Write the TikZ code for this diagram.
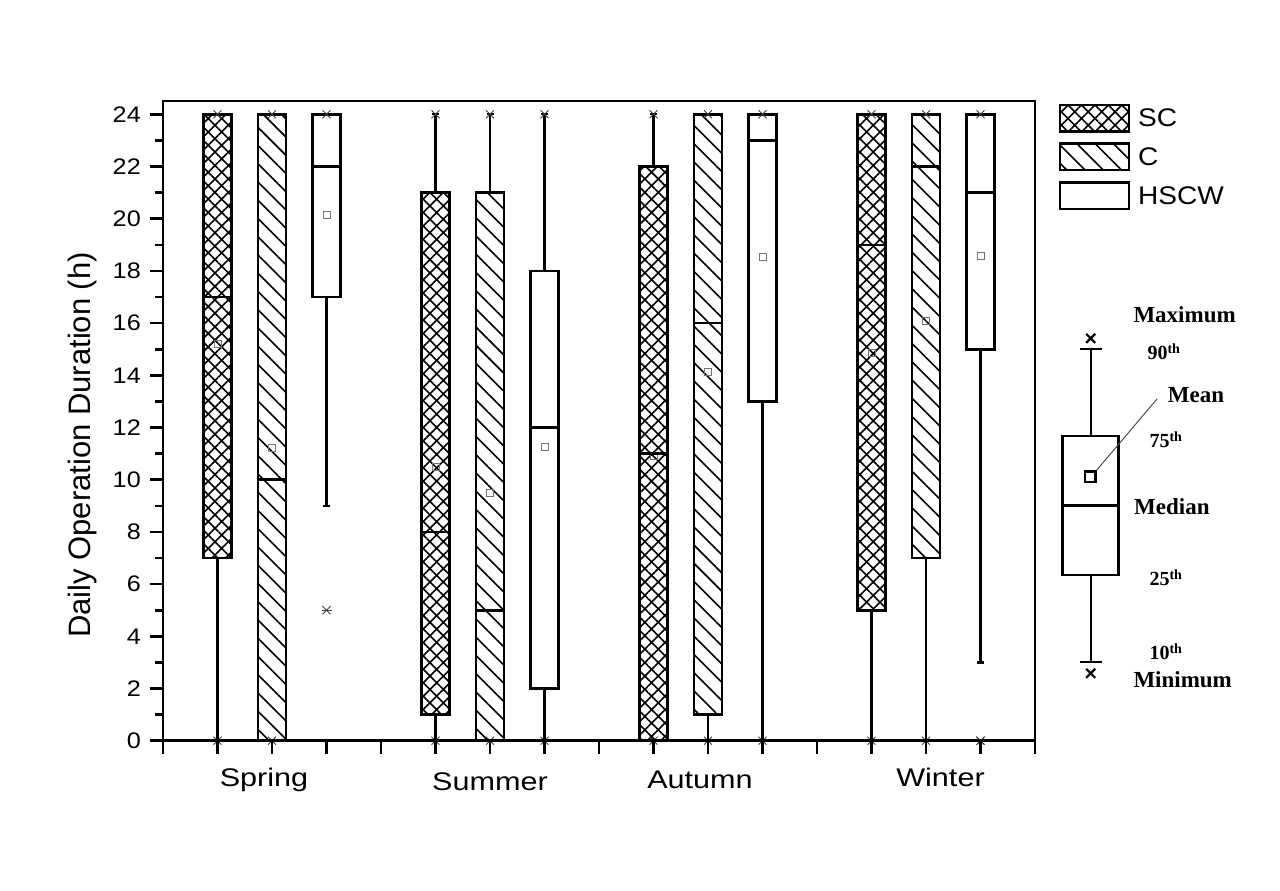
\documentclass[tikz,border=0pt]{standalone}
\usepackage{fontspec}
\setmainfont{Liberation Sans}
\newfontfamily\tnr{Liberation Serif}
\usetikzlibrary{patterns.meta}
\tikzset{
  axisline/.style={line width=2.6pt},
  boxline/.style={line width=2.6pt},
  whisk/.style={line width=2.2pt},
  meanmark/.style={draw=black!55, line width=1pt},
  xmark/.style={draw=black!75, line width=0.9pt},
  scfill/.style={pattern={Hatch[angle=45,distance=9.5pt,line width=1.6pt]}},
  cfill/.style={pattern={Lines[angle=-45,distance=12.9pt,line width=1.6pt]}},
  hfill/.style={fill=white},
  ticklab/.style={font=\fontsize{22.5}{22.5}\selectfont, anchor=east, inner sep=0pt, xscale=1.12},
  seasonlab/.style={font=\fontsize{25.5}{25.5}\selectfont, anchor=base, inner sep=0pt, xscale=1.2},
  leglab/.style={font=\fontsize{25.5}{25.5}\selectfont, anchor=west, inner sep=0pt, xscale=1.1},
  keylab/.style={font=\tnr\bfseries\fontsize{23}{23}\selectfont, anchor=west, inner sep=0pt},
  keynum/.style={font=\tnr\bfseries\fontsize{20}{20}\selectfont, anchor=west, inner sep=0pt},
}
\newcommand\thsup{\raisebox{0.3em}{\fontsize{14}{14}\selectfont th}}
% #1 pos, #2 q1, #3 q3, #4 median, #5 mean, #6 whisker low, #7 whisker high, #8 fill style
\newcommand\bxp[8]{%
  \fill[#8] (#1-0.257,#2) rectangle (#1+0.257,#3);
  \draw[meanmark] (#1,#5) ++(-3.5pt,-3.5pt) rectangle ++(7pt,7pt);
  \draw[whisk] (#1,#2) -- (#1,#6);
  \draw[whisk] (#1,#3) -- (#1,#7);
  \draw[whisk] (#1,#6) ++(-3.5pt,0) -- ++(7pt,0);
  \draw[whisk] (#1,#7) ++(-3.5pt,0) -- ++(7pt,0);
  \draw[boxline] (#1-0.257,#2) rectangle (#1+0.257,#3);
  \draw[boxline] (#1-0.257,#4) -- (#1+0.257,#4);
}
\newcommand\xmk[2]{%
  \draw[xmark] (#1,#2) ++(-4pt,-4pt) -- ++(8pt,8pt) ++(0,-8pt) -- ++(-8pt,8pt);
}
\begin{document}
\begin{tikzpicture}[x=1pt,y=-1pt]
\useasboundingbox[fill=white] (0,0) rectangle (1280,891);

\begin{scope}[shift={(163,740.7)}, x=54.5pt, y=26.1pt]
  % boxes
  \bxp{1}{7}{24}{17}{15.2}{0}{24}{scfill}
  \bxp{2}{0}{24}{10}{11.2}{0}{24}{cfill}
  \bxp{3}{17}{24}{22}{20.13}{9}{24}{hfill}
  \bxp{5}{1}{21}{8}{10.49}{0}{24}{scfill}
  \bxp{6}{0}{21}{5}{9.49}{0}{24}{cfill}
  \bxp{7}{2}{18}{12}{11.25}{0}{24}{hfill}
  \bxp{9}{0}{22}{11}{10.9}{0}{24}{scfill}
  \bxp{10}{1}{24}{16}{14.14}{0}{24}{cfill}
  \bxp{11}{13}{24}{23}{18.53}{0}{24}{hfill}
  \bxp{13}{5}{24}{19}{14.87}{0}{24}{scfill}
  \bxp{14}{7}{24}{22}{16.07}{0}{24}{cfill}
  \bxp{15}{15}{24}{21}{18.57}{3}{24}{hfill}
  % min / max markers
  \foreach \p in {1,2,5,6,7,9,10,11,13,14,15} {\xmk{\p}{0}}
  \foreach \p in {1,2,3,5,6,7,9,10,11,13,14,15} {\xmk{\p}{24}}
  \xmk{3}{5}
  \draw[xmark] (3,5) ++(-5pt,0) -- ++(10pt,0);
  \xmk{15}{0}
  % axes frame
  \draw[axisline] (0,0) rectangle (16,24.51);
  % x ticks
  \foreach \i in {0,...,16} {\draw[axisline] (\i,0) -- ++(0,-13pt);}
  % y ticks
  \foreach \v in {0,2,...,24} {\draw[axisline] (0,\v) -- ++(-13pt,0);
    \node[ticklab] (yl\v) at ([xshift=-22pt]0,\v) {\v};}
  \foreach \v in {1,3,...,23} {\draw[axisline] (0,\v) -- ++(-8pt,0);}
\end{scope}

% season labels
\node[seasonlab] (spring) at (264,786) {Spring};
\node[seasonlab] (summer) at (490,790.5) {Summer};
\node[seasonlab] (autumn) at (700,788.3) {Autumn};
\node[seasonlab] (winter) at (940.5,786.7) {Winter};

% y title
\node[font=\fontsize{31}{31}\selectfont, rotate=90, inner sep=0pt] (ytitle) at (82,445) {Daily Operation Duration (h)};

% legend
\fill[scfill] (1060,105) rectangle (1129,131.5);
\draw[boxline] (1060,105) rectangle (1129,131.5);
\fill[cfill] (1060,143.5) rectangle (1129,170);
\draw[boxline] (1060,143.5) rectangle (1129,170);
\draw[boxline, fill=white] (1060,182.7) rectangle (1129,209);
\node[leglab] (lsc) at (1138,118) {SC};
\node[leglab] (lc) at (1138,156.5) {C};
\node[leglab] (lh) at (1138,196) {HSCW};

% key box plot
\draw[whisk] (1090.7,436) -- (1090.7,349);
\draw[whisk] (1090.7,575) -- (1090.7,662.3);
\draw[whisk] (1080,349) -- (1101.7,349);
\draw[whisk] (1080,662.3) -- (1101.7,662.3);
\draw[boxline] (1062.7,436) rectangle (1118.3,575);
\draw[boxline] (1062.7,505.7) -- (1118.3,505.7);
\draw[line width=2.2pt] (1090.7,338.3) ++(-4.5pt,-4.5pt) -- ++(9pt,9pt) ++(0,-9pt) -- ++(-9pt,9pt);
\draw[line width=2.2pt] (1090.7,673.3) ++(-4.5pt,-4.5pt) -- ++(9pt,9pt) ++(0,-9pt) -- ++(-9pt,9pt);
\node[draw, line width=2.2pt, minimum size=10.5pt, inner sep=0pt] (meansq) at (1090.2,476.7) {};
\coordinate (meanlab) at (1157,399);
\draw[black!70, line width=1pt] (meansq.north east) -- (meanlab);

\node[keylab] (kmax) at (1133.3,315) {Maximum};
\node[keynum] (k90) at (1147.3,351.7) {90\thsup};
\node[keylab] (kmean) at (1167.7,395) {Mean};
\node[keynum] (k75) at (1149.3,440) {75\thsup};
\node[keylab] (kmed) at (1134,506.7) {Median};
\node[keynum] (k25) at (1149.3,578) {25\thsup};
\node[keynum] (k10) at (1149.3,651.7) {10\thsup};
\node[keylab] (kmin) at (1133.3,680) {Minimum};
\end{tikzpicture}
\end{document}
